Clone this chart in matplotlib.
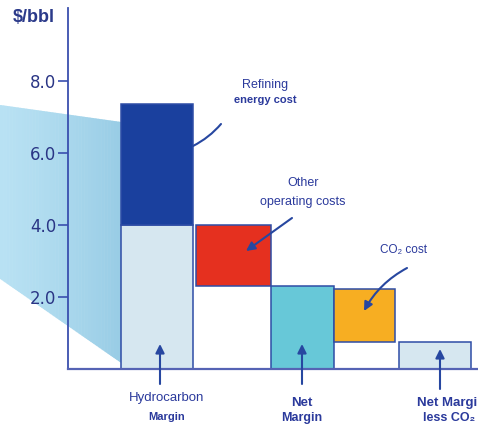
import numpy as np
import matplotlib
matplotlib.use("Agg")
import matplotlib.pyplot as plt
from matplotlib.collections import PolyCollection
from matplotlib.colors import to_rgb

# ---------------- data ----------------
segments = ["Hydrocarbon Margin", "Refining energy cost", "Other operating costs",
            "Net Margin", "CO2 cost", "Net Margin less CO2"]
seg_bottom = [0.0, 4.0, 2.3, 0.0, 0.75, 0.0]
seg_top = [4.0, 7.35, 4.0, 2.3, 2.2, 0.75]
y_ticks = [2.0, 4.0, 6.0, 8.0]
y_tick_labels = ["2.0", "4.0", "6.0", "8.0"]

# ---------------- layout / style ----------------
W, H = 478, 424
AX_L, AX_R, AX_TOP, Y0 = 68, 478, 8, 368.5
PX_PER_UNIT = 36.0

seg_left = [121, 121, 196, 271, 334, 399]   # pixel layout
seg_right = [193, 193, 271, 334, 395, 471]
seg_colors = ["#d6e7f0", "#1a409e", "#e5301f", "#67c8d8", "#f7ae22", "#d6e7f0"]
EDGE = "#2e4da6"
TXT = "#2b3a9c"
AXC = "#3a4fae"

fig = plt.figure(figsize=(W / 100, H / 100), dpi=100)
ax = fig.add_axes([AX_L / W, (H - Y0) / H, (AX_R - AX_L) / W, (Y0 - AX_TOP) / H])
ax.set_xlim(AX_L, AX_R)
ax.set_ylim(0, (Y0 - AX_TOP) / PX_PER_UNIT)


def py(p):
    """pixel row -> data y"""
    return (Y0 - p) / PX_PER_UNIT


# gradient decoration wedge on the left
xs = np.linspace(0, 121, 80)
top_l, top_r = py(105), py(122)
bot_l, bot_r = py(279), py(363)
c0, c1 = np.array(to_rgb("#b8e1f3")), np.array(to_rgb("#98cce5"))
polys, cols = [], []
for i in range(len(xs) - 1):
    a, b = xs[i], xs[i + 1]
    ta = top_l + (top_r - top_l) * a / 121
    tb = top_l + (top_r - top_l) * b / 121
    ba = bot_l + (bot_r - bot_l) * a / 121
    bb = bot_l + (bot_r - bot_l) * b / 121
    polys.append([(a, ba), (a, ta), (b + 0.6, tb), (b + 0.6, bb)])
    t = (a / 121) ** 1.3
    cols.append(c0 * (1 - t) + c1 * t)
pc = PolyCollection(polys, facecolors=cols, edgecolors="none", zorder=0, clip_on=False)
ax.add_collection(pc)

# bars
for lo, hi, l, r, c in zip(seg_bottom, seg_top, seg_left, seg_right, seg_colors):
    ax.bar(l, hi - lo, width=r - l, bottom=lo, align="edge", color=c,
           edgecolor=EDGE, linewidth=1.1, zorder=3)

# axes styling
for s in ["top", "right"]:
    ax.spines[s].set_visible(False)
ax.spines["left"].set_color(AXC)
ax.spines["bottom"].set_color("#5563b4")
ax.spines["left"].set_linewidth(1.3)
ax.spines["bottom"].set_linewidth(1.6)
ax.spines["left"].set_zorder(2)
ax.spines["bottom"].set_zorder(4)
ax.set_xticks([])
ax.set_yticks(y_ticks)
ax.set_yticklabels(y_tick_labels, fontsize=12, color="#2a3585", family="DejaVu Sans")
ax.tick_params(axis="y", length=7, width=1.2, color=AXC, pad=1.5)
ax.patch.set_alpha(0)

# unit label
fig.text(13 / W, 1 - 17 / H, "$/bbl", fontsize=13, fontweight="bold", color="#2b3a8a",
         family="Liberation Sans", ha="left", va="center")

# cropped title fragment (only descenders reach into the picture)
fig.text(334 / W, 1 + 5.5 / H, "Refinery operating", fontsize=17, fontweight="bold",
         color=TXT, family="Liberation Sans", ha="right", va="baseline")

fam = ["Liberation Sans", "DejaVu Sans"]


def label(x, p, s, size, weight="normal", ha="center"):
    ax.text(x, py(p), s, fontsize=size, fontweight=weight, color=TXT, family=fam,
            ha=ha, va="center", clip_on=False, zorder=6)


label(265, 85, "Refining", 9)
label(265, 100, "energy cost", 8, "bold")
label(303, 183, "Other", 9)
label(303, 202, "operating costs", 9)
label(403, 250, "CO₂ cost", 8.5)
label(167, 398, "Hydrocarbon", 9.5)
label(167, 417, "Margin", 8, "bold")
label(302, 403, "Net", 9.5, "bold")
label(302, 418, "Margin", 9, "bold")
label(417, 403, "Net Margin", 9.5, "bold", ha="left")
label(423, 418, "less CO₂", 9, "bold", ha="left")

# leader lines / arrows
ARW = "#2747a0"


def arrow(p0, p1, head=True, rad=0.0):
    ax.annotate("", xy=(p1[0], py(p1[1])), xytext=(p0[0], py(p0[1])),
                arrowprops=dict(arrowstyle="-|>" if head else "-", color=ARW, lw=1.5,
                                mutation_scale=13, shrinkA=0, shrinkB=0,
                                connectionstyle=f"arc3,rad={rad}"),
                annotation_clip=False, zorder=7)


arrow((221, 124), (193, 146), head=False, rad=-0.1)
arrow((292, 218), (246, 251))
arrow((407, 268), (364, 311), rad=0.15)
arrow((160, 384), (160, 344))
arrow((302, 384), (302, 344))
arrow((440, 389), (440, 349))

fig.savefig("out.png", dpi=100)
